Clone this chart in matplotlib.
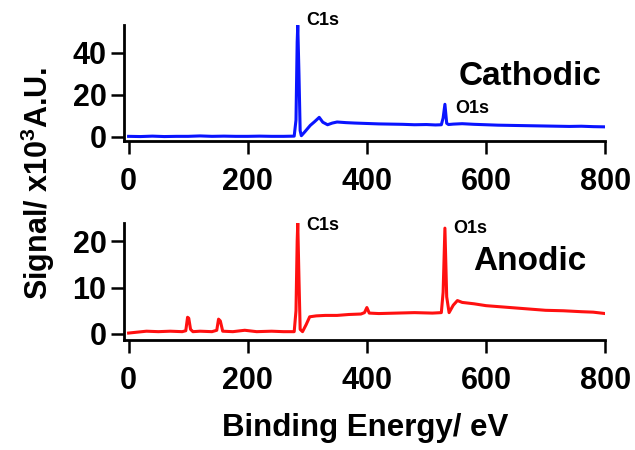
import matplotlib
matplotlib.use("Agg")
import matplotlib.pyplot as plt

plt.rcParams['font.family'] = ['Liberation Sans', 'DejaVu Sans']
plt.rcParams['font.weight'] = 'bold'
plt.rcParams['mathtext.fontset'] = 'custom'
plt.rcParams['mathtext.rm'] = 'Liberation Sans:bold'
plt.rcParams['mathtext.default'] = 'rm'

# cathodic survey (binding energy in eV, signal in x10^3 A.U.)
cath_energy = [0, 20, 40, 60, 80, 100, 120, 140, 160, 180, 200, 220, 240, 260, 278,
               281, 283, 284, 286, 288, 290, 296, 305, 312, 320, 326, 334, 342, 350,
               365, 380, 400, 420, 440, 460, 480, 500, 515, 525, 528, 531, 534, 537,
               545, 560, 580, 600, 620, 640, 660, 680, 700, 720, 740, 760, 780, 800]
cath_signal = [0.3, 0.2, 0.4, 0.2, 0.3, 0.3, 0.5, 0.3, 0.4, 0.3, 0.3, 0.4, 0.3, 0.3, 0.4,
               8.0, 45.0, 53.0, 30.0, 3.0, 0.6, 2.5, 5.5, 7.2, 9.3, 7.0, 5.8, 6.6, 7.1,
               6.8, 6.6, 6.4, 6.2, 6.1, 6.0, 5.8, 5.9, 5.7, 5.8, 9.0, 15.5, 6.5, 5.9,
               6.1, 6.3, 6.0, 5.8, 5.6, 5.5, 5.4, 5.3, 5.2, 5.1, 5.0, 5.1, 4.9, 4.8]

# anodic survey
anod_energy = [0, 15, 30, 50, 70, 90, 96, 99, 101, 104, 108, 120, 140, 148, 151, 154,
               158, 175, 195, 215, 240, 260, 278, 281, 283, 284, 286, 288, 292, 298,
               304, 315, 330, 350, 370, 390, 396, 400, 404, 420, 450, 480, 510, 525,
               528, 531, 534, 538, 545, 552, 560, 580, 600, 620, 650, 680, 700, 730,
               760, 780, 800]
anod_signal = [0.2, 0.4, 0.6, 0.5, 0.6, 0.5, 0.7, 3.6, 3.4, 1.0, 0.5, 0.6, 0.5, 0.8, 3.2,
               2.8, 0.6, 0.5, 0.8, 0.5, 0.6, 0.5, 0.5, 5.0, 20.0, 23.9, 12.0, 1.0, 0.5,
               2.0, 3.7, 3.9, 4.0, 4.0, 4.2, 4.3, 4.6, 5.7, 4.5, 4.4, 4.5, 4.6, 4.5, 4.6,
               9.0, 22.8, 8.0, 4.6, 6.2, 7.2, 6.8, 6.5, 6.1, 5.9, 5.6, 5.3, 5.1, 5.0,
               4.8, 4.7, 4.4]

x_ticks = [0, 200, 400, 600, 800]

fig = plt.figure(figsize=(6.35, 4.5), dpi=100)
ax1 = fig.add_axes([0.195, 0.6867, 0.758, 0.2573])
ax2 = fig.add_axes([0.195, 0.2444, 0.758, 0.26])

def style(ax, yticks, ylim):
    ax.set_xlim(-8, 800)
    ax.set_ylim(*ylim)
    ax.set_xticks(x_ticks)
    ax.set_yticks(yticks)
    for side in ['top', 'right']:
        ax.spines[side].set_visible(False)
    for side in ['left', 'bottom']:
        ax.spines[side].set_linewidth(2.0)
    ax.tick_params(direction='out', length=9.5, width=1.8, labelsize=22)
    ax.tick_params(axis='x', pad=9)
    ax.tick_params(axis='y', pad=3)
    for lab in ax.get_xticklabels() + ax.get_yticklabels():
        lab.set_fontweight('bold')

ax1.plot(cath_energy, cath_signal, color='#0a14ff', lw=2.2)
style(ax1, [0, 20, 40], (-1.9, 53))
ax1.text(299, 55, 'C1s', fontsize=13, fontweight='bold', va='center', clip_on=False)
ax1.text(548, 13.5, 'O1s', fontsize=13, fontweight='bold', va='center')
ax1.text(674, 28.8, 'Cathodic', fontsize=24, fontweight='bold', ha='center', va='center')

ax2.plot(anod_energy, anod_signal, color='#ff1010', lw=2.2)
style(ax2, [0, 10, 20], (-1.3, 23.9))
ax2.text(299, 23.4, 'C1s', fontsize=13, fontweight='bold', va='center', clip_on=False)
ax2.text(545, 22.8, 'O1s', fontsize=13, fontweight='bold', va='center', clip_on=False)
ax2.text(674, 15.7, 'Anodic', fontsize=24, fontweight='bold', ha='center', va='center')

fig.text(365 / 635, 1 - 428 / 450, 'Binding Energy/ eV', fontsize=22.5,
         fontweight='bold', ha='center', va='center')
fig.text(38 / 635, 1 - 183 / 450, 'Signal/ x10$^3$A.U.', fontsize=22,
         fontweight='bold', ha='center', va='center', rotation=90)

fig.savefig('out.png', dpi=100)
